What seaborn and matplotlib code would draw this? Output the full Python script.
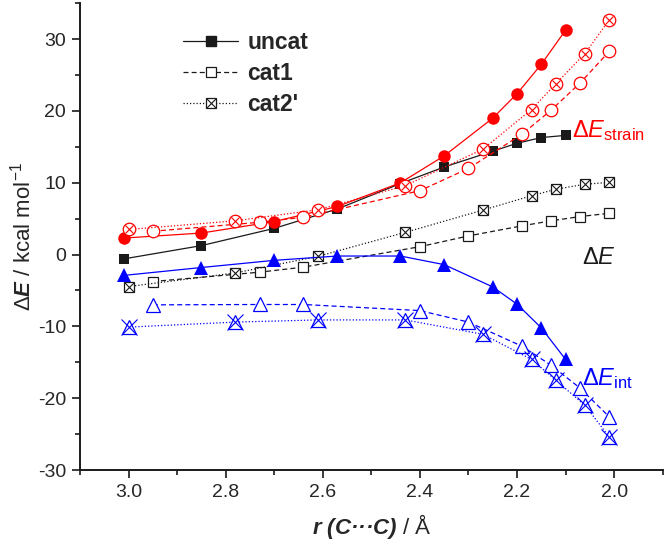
import numpy as np
import pandas as pd
import matplotlib
matplotlib.use('Agg')
import matplotlib.pyplot as plt
import seaborn as sns
from matplotlib.lines import Line2D
from matplotlib.ticker import MultipleLocator

# Data
uncat_x = [3.01, 2.85, 2.70, 2.57, 2.44, 2.35, 2.25, 2.20, 2.15, 2.10]
uncat_E = [-0.6, 1.25, 3.65, 6.35, 9.9, 12.2, 14.4, 15.5, 16.3, 16.6]
uncat_strain = [2.3, 3.0, 4.6, 6.7, 10.0, 13.75, 19.0, 22.4, 26.5, 31.25]
uncat_int = [-2.9, -1.8, -0.8, -0.2, -0.2, -1.4, -4.5, -6.9, -10.2, -14.6]

cat1_x = [2.95, 2.73, 2.64, 2.40, 2.30, 2.19, 2.13, 2.07, 2.01]
cat1_E = [-3.75, -2.45, -1.75, 1.1, 2.6, 4.0, 4.7, 5.3, 5.75]
cat1_strain = [3.25, 4.5, 5.2, 8.9, 12.0, 16.75, 20.1, 23.9, 28.3]
cat1_int = [-7.0, -6.95, -6.95, -7.8, -9.4, -12.75, -15.4, -18.6, -22.6]

cat2_x = [3.00, 2.78, 2.61, 2.43, 2.27, 2.17, 2.12, 2.06, 2.01]
cat2_E = [-4.45, -2.55, -0.25, 3.1, 6.2, 8.2, 9.1, 9.8, 10.05]
cat2_strain = [3.5, 4.7, 6.25, 9.6, 14.7, 20.2, 23.8, 28.0, 32.7]
cat2_int = [-10.1, -9.4, -9.1, -9.1, -11.1, -14.6, -17.5, -21.0, -25.4]

legend_labels = ['uncat', 'cat1', "cat2'"]

# Style
sns.set_style('ticks')
plt.rcParams['font.family'] = ['Liberation Sans', 'DejaVu Sans']
plt.rcParams['axes.unicode_minus'] = False
plt.rcParams['mathtext.fontset'] = 'custom'
plt.rcParams['mathtext.rm'] = 'Liberation Sans'
plt.rcParams['mathtext.it'] = 'Liberation Sans:italic'
plt.rcParams['mathtext.bf'] = 'Liberation Sans:bold'
plt.rcParams['mathtext.bfit'] = 'Liberation Sans:italic:bold'

RED = '#ff0000'
BLUE = '#0000ff'
BLACK = '#1a1a1a'

fig, ax = plt.subplots(figsize=(6.64, 5.45), dpi=100)
fig.subplots_adjust(left=0.1205, right=0.998, top=0.994, bottom=0.1376)


def draw(x, y, color, ls, marker, ms, filled=True, cross=None, lw=0.9):
    df = pd.DataFrame({'x': x, 'y': y})
    sns.lineplot(data=df, x='x', y='y', ax=ax, sort=False, color=color,
                 linestyle=ls, linewidth=lw, marker=marker, markersize=ms,
                 markerfacecolor=color if filled else 'white',
                 markeredgecolor=color, markeredgewidth=0.9 if not filled else 0,
                 zorder=3)
    if cross is not None:
        sns.lineplot(data=df, x='x', y='y', ax=ax, sort=False, color=color,
                     linestyle='none', marker='x', markersize=cross,
                     markeredgecolor=color, markeredgewidth=0.8, zorder=4)


# black: Delta E
draw(uncat_x, uncat_E, BLACK, '-', 's', 7.5)
draw(cat1_x, cat1_E, BLACK, (0, (4, 2.5)), 's', 7.5, filled=False)
draw(cat2_x, cat2_E, BLACK, (0, (1, 1.6)), 's', 7.5, filled=False, cross=7.5)

# red: Delta E strain
draw(uncat_x, uncat_strain, RED, '-', 'o', 9)
draw(cat1_x, cat1_strain, RED, (0, (4, 2.5)), 'o', 9, filled=False)
draw(cat2_x, cat2_strain, RED, (0, (1, 1.6)), 'o', 9, filled=False, cross=6.4)

# blue: Delta E int
draw(uncat_x, uncat_int, BLUE, '-', '^', 10)
draw(cat1_x, cat1_int, BLUE, (0, (4, 2.5)), '^', 10, filled=False)
draw(cat2_x, cat2_int, BLUE, (0, (1, 1.6)), '^', 10, filled=False, cross=11)

# axes
ax.set_xlim(3.1, 1.9)
ax.set_ylim(-30, 35)
ax.xaxis.set_minor_locator(MultipleLocator(0.1))
ax.yaxis.set_major_locator(MultipleLocator(10))
ax.yaxis.set_minor_locator(MultipleLocator(5))
ax.set_xticks([3.0, 2.8, 2.6, 2.4, 2.2, 2.0])
ax.set_xticklabels(['3.0', '2.8', '2.6', '2.4', '2.2', '2.0'])
ax.tick_params(axis='both', which='major', direction='out', length=6,
               width=1.2, labelsize=14, pad=4, color=BLACK)
ax.tick_params(axis='both', which='minor', direction='out', length=3.5,
               width=1.2, color=BLACK)
sns.despine(ax=ax)
for sp in ['left', 'bottom']:
    ax.spines[sp].set_linewidth(1.4)
    ax.spines[sp].set_color(BLACK)

ax.set_xlabel(r'$\mathbfit{r\ (C···C)}$ / Å', fontsize=16, labelpad=8)
ax.set_ylabel(r'$\mathit{Δ}\mathbfit{E}$ / kcal mol$^{-1}$', fontsize=16, labelpad=2)

# series annotations (upright delta, italic E)
ax.text(2.086, 17.3, r'Δ$\mathit{E}_{\mathrm{strain}}$', color=RED,
        fontsize=17, ha='left', va='center')
ax.text(2.066, -0.5, r'Δ$\mathit{E}$', color=BLACK, fontsize=17,
        ha='left', va='center')
ax.text(2.066, -17.2, r'Δ$\mathit{E}_{\mathrm{int}}$', color=BLUE,
        fontsize=17, ha='left', va='center')

# legend (black handles)
h_uncat = Line2D([], [], color=BLACK, ls='-', lw=0.9, marker='s', ms=7,
                 mfc=BLACK, mec=BLACK)
h_cat1 = Line2D([], [], color=BLACK, ls=(0, (4, 2.5)), lw=0.9, marker='s', ms=7,
                mfc='white', mec=BLACK, mew=0.9)
h_cat2 = (Line2D([], [], color=BLACK, ls=(0, (1, 1.6)), lw=0.9, marker='s', ms=7,
                 mfc='white', mec=BLACK, mew=0.9),
          Line2D([], [], ls='none', marker='x', ms=7, mec=BLACK, mew=0.8))
leg = ax.legend([h_uncat, h_cat1, h_cat2], legend_labels, loc='upper left',
                bbox_to_anchor=(0.142, 0.985), frameon=False, numpoints=1,
                handlelength=2.4, handletextpad=0.4, labelspacing=0.35,
                prop={'weight': 'bold', 'size': 16.5})

fig.savefig('out.png', dpi=100)
